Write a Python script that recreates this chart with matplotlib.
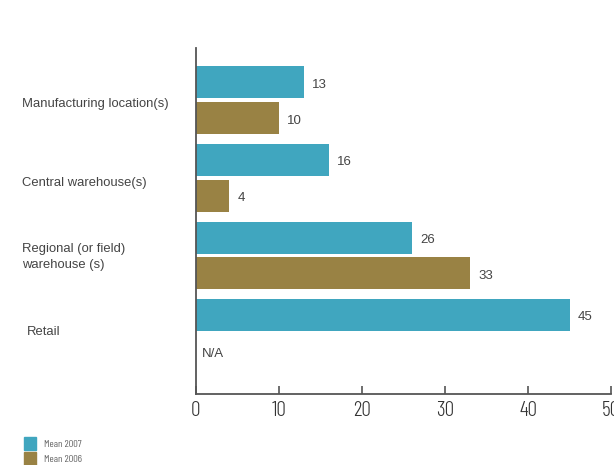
import matplotlib
matplotlib.use("Agg")
import matplotlib.pyplot as plt
import matplotlib.transforms as mtransforms
import numpy as np
from matplotlib.patches import Patch

categories = ["Manufacturing location(s)", "Central warehouse(s)",
              "Regional (or field)\nwarehouse (s)", "Retail"]
mean_2007 = [13, 16, 26, 45]
mean_2006 = [10, 4, 33, None]   # no 2006 figure for retail
xticks = [0, 10, 20, 30, 40, 50]

teal = "#40a6bf"
brown = "#998244"
text_col = "#444444"
plain = ["Liberation Sans", "DejaVu Sans"]
narrow = ["Barlow Condensed", "Archivo Narrow", "Liberation Sans", "DejaVu Sans"]

fig = plt.figure(figsize=(6.14, 4.65), dpi=100)
W, H = 614, 465
# axes box: x 0 -> 196px, 50 -> 611px ; y from 48px to 394px
ax = fig.add_axes([196 / W, 1 - 394 / H, (611 - 196) / W, (394 - 48) / H])

pos = np.arange(len(categories))
bh = 0.413
off = 0.232
dy = 0.03   # nudge value labels down a touch

for i, v in enumerate(mean_2007):
    ax.barh(pos[i] - off, v, height=bh, color=teal)
    ax.text(v + 1.0, pos[i] - off + dy, str(v), va="center", ha="left",
            fontsize=9.5, color=text_col, family=plain)
for i, v in enumerate(mean_2006):
    if v is None:
        ax.text(0.7, pos[i] + off + 0.04, "N/A", va="center", ha="left",
                fontsize=9.5, color=text_col, family=plain)
        continue
    ax.barh(pos[i] + off, v, height=bh, color=brown)
    ax.text(v + 1.0, pos[i] + off + dy, str(v), va="center", ha="left",
            fontsize=9.5, color=text_col, family=plain)

ax.set_xlim(0, 50)
ax.set_ylim(3.787, -0.677)

for s in ["top", "right"]:
    ax.spines[s].set_visible(False)
for s in ["left", "bottom"]:
    ax.spines[s].set_color("#555555")
    ax.spines[s].set_linewidth(1.3)

ax.set_xticks(xticks)
ax.set_xticklabels([str(t) for t in xticks], fontsize=15.5, family=narrow,
                   fontweight=300, color="#333333")
ax.tick_params(axis="x", direction="in", length=6, width=1.2,
               color="#555555", pad=5)
ax.set_yticks([])

# category names on the left, x in figure pixels, y in data
lab_tr = mtransforms.blended_transform_factory(fig.transFigure, ax.transData)
label_y = [0.05, 0.06, 0.02, -0.01]
label_x = [22, 22, 22, 27]
for i, name in enumerate(categories):
    ax.text(label_x[i] / W, pos[i] + label_y[i], name, transform=lab_tr,
            va="center", ha="left", fontsize=9.4, color=text_col,
            family=plain, linespacing=1.4, clip_on=False)

handles = [Patch(color=teal, label="Mean 2007"), Patch(color=brown, label="Mean 2006")]
leg = fig.legend(handles=handles, loc="upper left", bbox_to_anchor=(15 / W, 1 - 428 / H),
                 frameon=False, fontsize=7.5, handlelength=1.1, handleheight=1.5,
                 handletextpad=0.8, labelspacing=0.2)
for t in leg.get_texts():
    t.set_color("#666666")
    t.set_family(narrow)

fig.savefig("out.png", dpi=100)
